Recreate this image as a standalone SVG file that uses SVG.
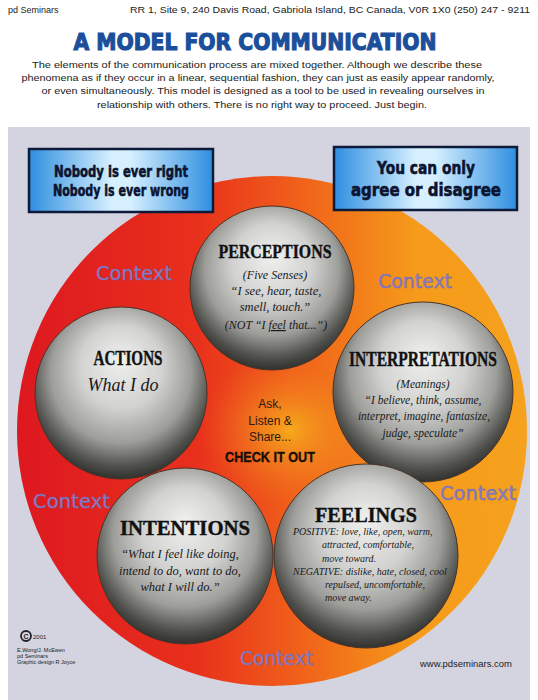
<svg xmlns="http://www.w3.org/2000/svg" width="538" height="700" viewBox="0 0 538 700">
<defs>
  <linearGradient id="ring" x1="0" y1="0" x2="1" y2="0">
    <stop offset="0" stop-color="#dd1820"/>
    <stop offset="0.35" stop-color="#e8301c"/>
    <stop offset="0.55" stop-color="#f0601a"/>
    <stop offset="0.78" stop-color="#f69a1a"/>
    <stop offset="1" stop-color="#f5a21e"/>
  </linearGradient>
  <radialGradient id="center" cx="0.5" cy="0.5" r="0.5">
    <stop offset="0" stop-color="#f7b21c" stop-opacity="0.9"/>
    <stop offset="1" stop-color="#f07020" stop-opacity="0"/>
  </radialGradient>
  <radialGradient id="sphere" cx="0.5" cy="0.42" r="0.6" fx="0.5" fy="0.3">
    <stop offset="0" stop-color="#f0f0ef"/>
    <stop offset="0.4" stop-color="#d2d2d0"/>
    <stop offset="0.68" stop-color="#9d9d9a"/>
    <stop offset="0.87" stop-color="#50504d"/>
    <stop offset="1" stop-color="#282826"/>
  </radialGradient>
  <linearGradient id="box" x1="0" y1="0" x2="1" y2="0">
    <stop offset="0" stop-color="#2f8ee0"/>
    <stop offset="0.45" stop-color="#d6f0ff"/>
    <stop offset="0.55" stop-color="#d6f0ff"/>
    <stop offset="1" stop-color="#2f8ee0"/>
  </linearGradient>
  <style>
    .small{font-family:"Liberation Sans",Arial,sans-serif;fill:#222;}
    .para{font-family:"Liberation Sans",Arial,sans-serif;font-size:9.6px;fill:#222;text-anchor:middle;}
    .boxt{font-family:"DejaVu Sans","Liberation Sans",sans-serif;font-weight:bold;fill:#0b1430;stroke:#0b1430;stroke-width:0.6;text-anchor:middle;}
    .ctx{font-family:"DejaVu Sans","Liberation Sans",sans-serif;font-size:19px;fill:#8a7fc6;stroke:#6f66b0;stroke-width:0.4;}
    .ball{fill:url(#sphere);stroke:#4a3328;stroke-width:1;}
    .ttl{font-family:"Liberation Serif","Times New Roman",serif;font-weight:bold;fill:#111;stroke:#111;stroke-width:0.4;text-anchor:middle;}
    .it{font-family:"Liberation Serif","Times New Roman",serif;font-style:italic;fill:#1a1a1a;text-anchor:middle;}
    .fl{font-family:"Liberation Serif","Times New Roman",serif;font-style:italic;fill:#1a1a1a;font-size:10px;}
  </style>
</defs>

<rect x="0" y="0" width="538" height="700" fill="#ffffff"/>
<rect x="8" y="127" width="522" height="573" fill="#d4d3e0"/>

<g id="header">
  <text class="small" x="8" y="13" font-size="9">pd Seminars</text>
  <text class="small" x="130" y="13" font-size="9" textLength="400" lengthAdjust="spacingAndGlyphs">RR 1, Site 9, 240 Davis Road, Gabriola Island, BC Canada, V0R 1X0  (250) 247 - 9211</text>
  <text x="255" y="50" font-family="'DejaVu Sans','Liberation Sans',sans-serif" font-weight="bold" font-size="23" fill="#1b4f9c" stroke="#1b4f9c" stroke-width="1.2" text-anchor="middle" textLength="363" lengthAdjust="spacingAndGlyphs">A MODEL FOR COMMUNICATION</text>
  <text class="para" x="257" y="68" textLength="450" lengthAdjust="spacingAndGlyphs">The elements of the communication process are mixed together.  Although we describe these</text>
  <text class="para" x="258" y="81" textLength="473" lengthAdjust="spacingAndGlyphs">phenomena as if they occur in a linear, sequential fashion, they can just as easily appear randomly,</text>
  <text class="para" x="263" y="94" textLength="443" lengthAdjust="spacingAndGlyphs">or even simultaneously.  This model is designed as a tool to be used in revealing ourselves in</text>
  <text class="para" x="262" y="108" textLength="330" lengthAdjust="spacingAndGlyphs">relationship with others.  There is no right way to proceed. Just begin.</text>
</g>

<g id="context-ring">
  <circle cx="272" cy="431" r="255" fill="url(#ring)"/>
  <ellipse cx="290" cy="430" rx="90" ry="80" fill="url(#center)"/>
  <text class="ctx" x="96" y="280" textLength="76" lengthAdjust="spacingAndGlyphs">Context</text>
  <text class="ctx" x="378" y="288" textLength="74" lengthAdjust="spacingAndGlyphs">Context</text>
  <text class="ctx" x="33" y="508" textLength="77" lengthAdjust="spacingAndGlyphs">Context</text>
  <text class="ctx" x="440" y="500" textLength="76" lengthAdjust="spacingAndGlyphs">Context</text>
  <text class="ctx" x="240" y="665" textLength="73" lengthAdjust="spacingAndGlyphs">Context</text>
</g>

<g id="box-left">
  <rect x="29" y="149" width="184" height="63" fill="url(#box)" stroke="#0d1a3a" stroke-width="2.5"/>
  <text class="boxt" x="121" y="177" font-size="15" textLength="134" lengthAdjust="spacingAndGlyphs">Nobody is ever right</text>
  <text class="boxt" x="121" y="196" font-size="15" textLength="136" lengthAdjust="spacingAndGlyphs">Nobody is ever wrong</text>
</g>

<g id="box-right">
  <rect x="334" y="147" width="183" height="63" fill="url(#box)" stroke="#0d1a3a" stroke-width="2.5"/>
  <text class="boxt" x="426" y="174" font-size="17" textLength="98" lengthAdjust="spacingAndGlyphs">You can only</text>
  <text class="boxt" x="426" y="196" font-size="17" textLength="150" lengthAdjust="spacingAndGlyphs">agree or disagree</text>
</g>

<g id="perceptions">
  <circle class="ball" cx="272" cy="288" r="82"/>
  <text class="ttl" x="275" y="258" font-size="19" textLength="113" lengthAdjust="spacingAndGlyphs">PERCEPTIONS</text>
  <text class="it" x="275" y="279" font-size="12">(Five Senses)</text>
  <text class="it" x="276" y="295" font-size="12.5">“I see, hear, taste,</text>
  <text class="it" x="275" y="311" font-size="12.5">smell, touch.”</text>
  <text class="it" x="276" y="329" font-size="12">(NOT “I <tspan text-decoration="underline">feel</tspan> that...”)</text>
</g>

<g id="actions">
  <circle class="ball" cx="121" cy="393" r="86"/>
  <text class="ttl" x="128" y="365" font-size="20" textLength="69" lengthAdjust="spacingAndGlyphs">ACTIONS</text>
  <text class="it" x="123" y="391" font-size="18">What I do</text>
</g>

<g id="interpretations">
  <circle class="ball" cx="423" cy="392" r="90"/>
  <text class="ttl" transform="translate(423,366) scale(0.74,1)" x="0" y="0" font-size="21">INTERPRETATIONS</text>
  <text class="it" x="423" y="388" font-size="11.5">(Meanings)</text>
  <text class="it" x="423" y="404" font-size="11.5">“I believe, think, assume,</text>
  <text class="it" x="424" y="420" font-size="11.5">interpret, imagine, fantasize,</text>
  <text class="it" x="423" y="437" font-size="11.5">judge, speculate”</text>
</g>

<g id="intentions">
  <circle class="ball" cx="185" cy="556" r="88"/>
  <text class="ttl" x="185" y="535" font-size="20" textLength="130" lengthAdjust="spacingAndGlyphs">INTENTIONS</text>
  <text class="it" x="180" y="558" font-size="12.5">“What I feel like doing,</text>
  <text class="it" x="180" y="575" font-size="12.5">intend to do, want to do,</text>
  <text class="it" x="180" y="591" font-size="12.5">what I will do.”</text>
</g>

<g id="feelings">
  <circle class="ball" cx="366" cy="556" r="92"/>
  <text class="ttl" x="366" y="522" font-size="21" textLength="102" lengthAdjust="spacingAndGlyphs">FEELINGS</text>
  <text class="fl" x="293" y="535">POSITIVE: love, like, open, warm,</text>
  <text class="fl" x="322" y="548">attracted, comfortable,</text>
  <text class="fl" x="322" y="562">move toward.</text>
  <text class="fl" x="293" y="575">NEGATIVE: dislike, hate, closed, cool</text>
  <text class="fl" x="325" y="588">repulsed, uncomfortable,</text>
  <text class="fl" x="325" y="601">move away.</text>
</g>

<g id="center-text">
  <text x="270" y="408" font-family="'Liberation Sans',Arial,sans-serif" font-size="12" fill="#2a1a10" text-anchor="middle">Ask,</text>
  <text x="270" y="425" font-family="'Liberation Sans',Arial,sans-serif" font-size="12" fill="#2a1a10" text-anchor="middle">Listen &amp;</text>
  <text x="270" y="441" font-family="'Liberation Sans',Arial,sans-serif" font-size="12" fill="#2a1a10" text-anchor="middle">Share...</text>
  <text x="270" y="462" font-family="'Liberation Sans',Arial,sans-serif" font-weight="bold" font-size="15" fill="#1a0e08" stroke="#1a0e08" stroke-width="0.4" text-anchor="middle" textLength="90" lengthAdjust="spacingAndGlyphs">CHECK IT OUT</text>
</g>

<g id="footer">
  <circle cx="26" cy="636" r="5" fill="none" stroke="#222" stroke-width="1.8"/>
  <text class="small" x="26" y="639" font-size="7" font-weight="bold" text-anchor="middle">C</text>
  <text class="small" x="33" y="639" font-size="6">2001</text>
  <text class="small" x="17" y="652" font-size="5.5">E.Wong/J. McEwen</text>
  <text class="small" x="17" y="658" font-size="5.5">pd Seminars</text>
  <text class="small" x="17" y="664" font-size="5.5">Graphic design R Joyce</text>
  <text class="small" x="420" y="667" font-size="9" textLength="92" lengthAdjust="spacingAndGlyphs">www.pdseminars.com</text>
</g>
</svg>
